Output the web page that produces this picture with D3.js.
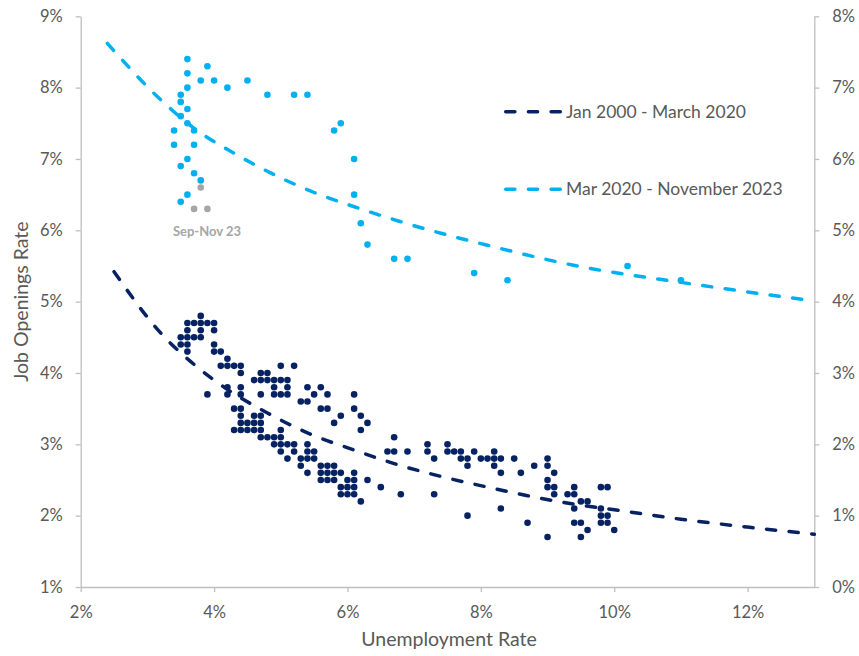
<!DOCTYPE html>
<html>
<head>
<meta charset="utf-8">
<script src="https://cdn.jsdelivr.net/npm/d3@7"></script>
<style>
  body { margin: 0; background: #fff; }
  text { font-family: Lato, "Open Sans", sans-serif; fill: #595959; }
  .axis path, .axis line { stroke: #bfbfbf; stroke-width: 1.3; }
</style>
</head>
<body>
<script>
// Width and height of the svg element
var width = 859;
var height = 656;

// Jan 2000 - Mar 2020: [unemployment rate, job openings rate]
var preCovid = [
  [3.8,4.8],
  [3.6,4.7],[3.7,4.7],[3.8,4.7],[3.9,4.7],[4.0,4.7],
  [3.6,4.6],[3.8,4.6],[4.0,4.6],
  [3.5,4.5],[3.6,4.5],[3.7,4.5],[3.8,4.5],
  [3.5,4.4],[3.6,4.4],[4.0,4.4],
  [3.6,4.3],[4.0,4.3],[4.1,4.3],
  [4.2,4.2],
  [4.1,4.1],[4.2,4.1],[4.3,4.1],[4.4,4.1],[5.0,4.1],[5.2,4.1],
  [4.4,4.0],[4.7,4.0],[4.8,4.0],
  [4.6,3.9],[4.7,3.9],[4.8,3.9],[4.9,3.9],[5.0,3.9],[5.1,3.9],
  [4.2,3.8],[4.4,3.8],[4.9,3.8],[5.1,3.8],[5.4,3.8],[5.6,3.8],
  [3.9,3.7],[4.2,3.7],[4.4,3.7],[4.7,3.7],[4.9,3.7],[5.0,3.7],[5.1,3.7],[5.5,3.7],[5.7,3.7],[6.1,3.7],
  [5.3,3.6],[5.4,3.6],
  [4.3,3.5],[4.4,3.5],[5.6,3.5],[5.7,3.5],[6.1,3.5],
  [4.4,3.4],[4.6,3.4],[4.7,3.4],[5.9,3.4],[6.2,3.4],
  [4.4,3.3],[4.5,3.3],[4.6,3.3],[4.7,3.3],[5.8,3.3],[6.3,3.3],
  [4.3,3.2],[4.4,3.2],[4.5,3.2],[4.6,3.2],[4.7,3.2],[5.0,3.2],[6.2,3.2],
  [4.7,3.1],[4.8,3.1],[4.9,3.1],[5.0,3.1],[6.7,3.1],
  [4.9,3.0],[5.0,3.0],[5.1,3.0],[5.2,3.0],[5.4,3.0],[7.2,3.0],[7.5,3.0],
  [5.0,2.9],[5.2,2.9],[5.4,2.9],[5.5,2.9],[6.6,2.9],[6.7,2.9],[6.9,2.9],[7.2,2.9],[7.5,2.9],[7.6,2.9],[7.7,2.9],[7.9,2.9],[8.2,2.9],
  [5.1,2.8],[5.3,2.8],[5.4,2.8],[5.5,2.8],[7.3,2.8],[7.7,2.8],[7.8,2.8],[8.0,2.8],[8.1,2.8],[8.2,2.8],[8.3,2.8],[8.5,2.8],[9.0,2.8],
  [5.3,2.7],[5.6,2.7],[5.7,2.7],[5.8,2.7],[7.8,2.7],[8.2,2.7],[8.8,2.7],[9.0,2.7],
  [5.4,2.6],[5.6,2.6],[5.7,2.6],[5.8,2.6],[5.9,2.6],[6.1,2.6],[8.3,2.6],[8.6,2.6],[9.1,2.6],
  [5.6,2.5],[5.7,2.5],[5.8,2.5],[6.0,2.5],[6.1,2.5],[6.3,2.5],[9.0,2.5],
  [5.9,2.4],[6.0,2.4],[6.1,2.4],[6.5,2.4],[9.0,2.4],[9.1,2.4],[9.4,2.4],[9.8,2.4],[9.9,2.4],
  [5.9,2.3],[6.0,2.3],[6.1,2.3],[6.8,2.3],[7.3,2.3],[9.1,2.3],[9.3,2.3],[9.4,2.3],
  [6.2,2.2],[9.5,2.2],[9.6,2.2],
  [8.3,2.1],[9.4,2.1],[9.8,2.1],
  [7.8,2.0],[9.8,2.0],[9.9,2.0],
  [8.7,1.9],[9.4,1.9],[9.5,1.9],[9.8,1.9],[9.9,1.9],
  [9.6,1.8],[10.0,1.8],
  [9.0,1.7],[9.5,1.7]
];

// Mar 2020 - Aug 2023
var postCovid = [
  [3.6,8.4],[3.9,8.3],[3.6,8.2],[3.8,8.1],[4.0,8.1],[4.5,8.1],[3.6,8.0],[4.2,8.0],
  [3.5,7.9],[4.8,7.9],[5.2,7.9],[5.4,7.9],[3.5,7.8],[3.6,7.7],[3.5,7.6],[3.6,7.5],
  [5.9,7.5],[3.4,7.4],[3.7,7.4],[5.8,7.4],[3.4,7.2],[3.7,7.2],[3.6,7.0],[6.1,7.0],
  [3.5,6.9],[3.7,6.8],[3.8,6.7],[3.6,6.5],[6.1,6.5],[3.5,6.4],[6.2,6.1],[6.3,5.8],
  [6.7,5.6],[6.9,5.6],[7.9,5.4],[8.4,5.3],[10.2,5.5],[11.0,5.3]
];

// Sep - Nov 2023
var sepNov23 = [[3.8,6.6],[3.7,6.3],[3.9,6.3]];

// Trend lines
var preTrend = [[2.5,5.42],[3.2,4.56],[3.7,4.12],[4.2,3.77],[4.8,3.44],[5.4,3.16],[6.1,2.92],[6.7,2.73],
                [7.4,2.55],[8.1,2.40],[8.7,2.28],[9.4,2.16],[10.1,2.07],[11.0,1.95],[12.0,1.84],[13.0,1.74]];
var postTrend = [[2.4,8.62],[3.2,7.83],[3.7,7.43],[4.3,7.08],[4.9,6.78],[5.5,6.53],[6.2,6.30],[6.8,6.12],
                 [8.1,5.79],[9.5,5.49],[11.0,5.27],[13.0,5.01]];

// Axis ticks and labels
var xTicks = [2, 4, 6, 8, 10, 12];
var leftTicks = [1, 2, 3, 4, 5, 6, 7, 8, 9];
var rightTicks = [0, 1, 2, 3, 4, 5, 6, 7, 8];
var legendLabels = ["Jan 2000 - March 2020", "Mar 2020 - November 2023"];

var darkBlue = "#072262";
var lightBlue = "#00b0f0";
var grey = "#a6a6a6";
var dashes = "9.2,13.5";

// Scales
var x = d3.scaleLinear().domain([2, 13]).range([80.7, 814.3]);
var y = d3.scaleLinear().domain([1, 9]).range([587, 16.3]);
var yRight = d3.scaleLinear().domain([0, 8]).range([587, 16.3]);

var svg = d3.select("body")
            .append("svg")
            .attr("width", width)
            .attr("height", height);

var pct = function(d) { return d + "%"; };

// Axes
svg.append("g")
    .attr("class", "axis")
    .attr("transform", "translate(0," + y(1) + ")")
    .call(d3.axisBottom(x).tickValues(xTicks).tickFormat(pct).tickSize(5).tickSizeOuter(0).tickPadding(14));

svg.append("g")
    .attr("class", "axis")
    .attr("transform", "translate(" + x(2) + ",0)")
    .call(d3.axisLeft(y).tickValues(leftTicks).tickFormat(pct).tickSize(5).tickSizeOuter(0).tickPadding(13));

svg.append("g")
    .attr("class", "axis")
    .attr("transform", "translate(" + x(13) + ",0)")
    .call(d3.axisRight(yRight).tickValues(rightTicks).tickFormat(pct).tickSize(5).tickSizeOuter(0).tickPadding(13));

svg.selectAll(".axis text")
    .style("font-size", "16.5px")
    .style("fill", "#595959");

// Axis titles
svg.append("text")
    .attr("x", 449)
    .attr("y", 646)
    .attr("text-anchor", "middle")
    .style("font-size", "19.5px")
    .text("Unemployment Rate");

svg.append("text")
    .attr("transform", "translate(28," + (y(1) + y(9)) / 2 + ") rotate(-90)")
    .attr("text-anchor", "middle")
    .style("font-size", "19.5px")
    .text("Job Openings Rate");

// Scatter points
function dots(data, fill) {
    svg.append("g")
        .selectAll("circle")
        .data(data)
        .enter()
        .append("circle")
        .attr("cx", function(d) { return x(d[0]); })
        .attr("cy", function(d) { return y(d[1]); })
        .attr("r", 3.3)
        .style("fill", fill);
}
dots(preCovid, darkBlue);
dots(postCovid, lightBlue);
dots(sepNov23, grey);

// Trend lines
var line = d3.line()
    .x(function(d) { return x(d[0]); })
    .y(function(d) { return y(d[1]); })
    .curve(d3.curveMonotoneX);

[[preTrend, darkBlue], [postTrend, lightBlue]].forEach(function(t) {
    svg.append("path")
        .attr("d", line(t[0]))
        .style("fill", "none")
        .style("stroke", t[1])
        .style("stroke-width", 3.5)
        .style("stroke-linecap", "round")
        .style("stroke-dasharray", dashes);
});

svg.append("text")
    .attr("x", 207)
    .attr("y", 235.5)
    .attr("text-anchor", "middle")
    .style("font-size", "13px")
    .style("font-weight", "bold")
    .style("fill", grey)
    .text("Sep-Nov 23");

// Legend
var legendY = [111.7, 189.3];
var legendColors = [darkBlue, lightBlue];
var legend = svg.selectAll("g.legend")
    .data(legendLabels)
    .enter()
    .append("g")
    .attr("class", "legend");

legend.append("line")
    .attr("x1", 505.7)
    .attr("x2", 561)
    .attr("y1", function(d, i) { return legendY[i]; })
    .attr("y2", function(d, i) { return legendY[i]; })
    .style("stroke", function(d, i) { return legendColors[i]; })
    .style("stroke-width", 3.5)
    .style("stroke-linecap", "round")
    .style("stroke-dasharray", dashes);

legend.append("text")
    .attr("x", 566)
    .attr("y", function(d, i) { return legendY[i] + 5.8; })
    .style("font-size", "17.5px")
    .text(function(d) { return d; });
</script>
</body>
</html>
